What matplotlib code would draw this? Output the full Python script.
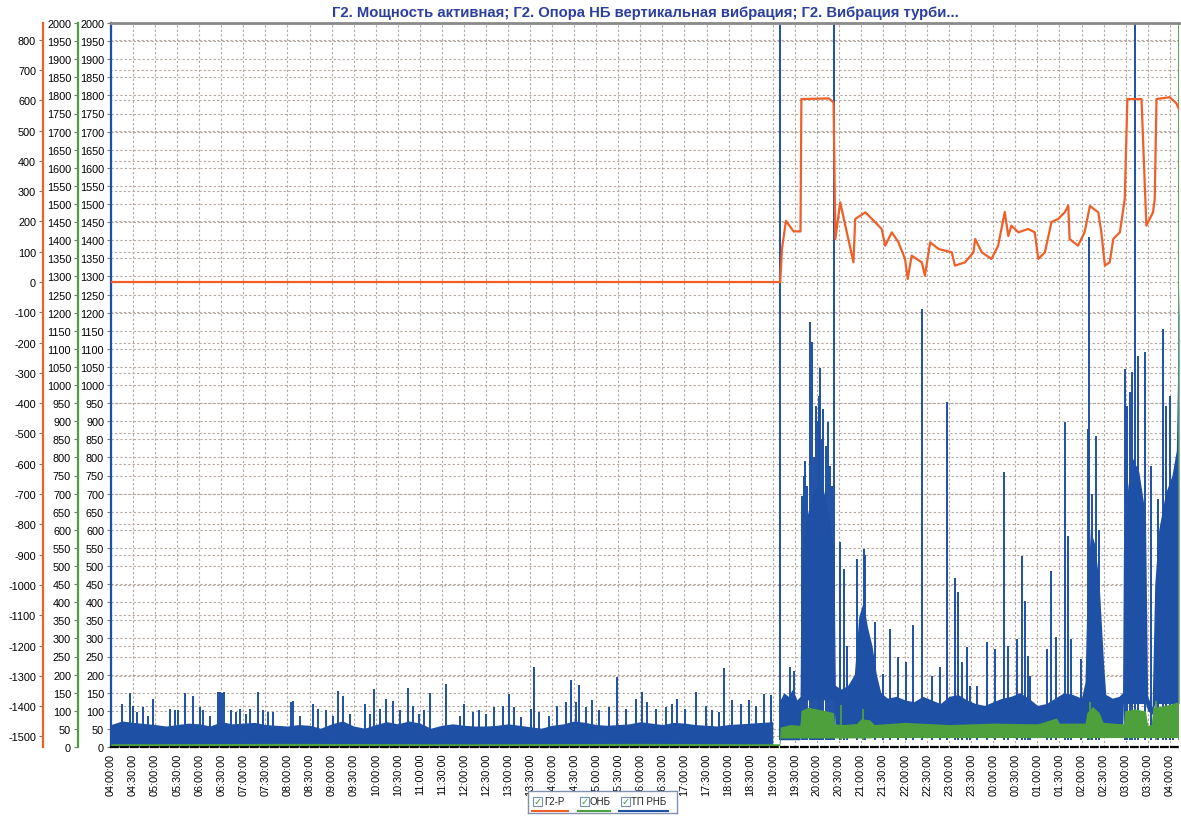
import numpy as np
import matplotlib
matplotlib.use('Agg')
import matplotlib.pyplot as plt
from matplotlib.patches import Rectangle

plt.rcParams['font.family'] = ['Liberation Sans', 'DejaVu Sans']
plt.rcParams['axes.unicode_minus'] = False

# ---------------------------------------------------------------------------
# Data (time in hours from 04:00, values in axis units)
TITLE = "Г2. Мощность активная; Г2. Опора НБ вертикальная вибрация; Г2. Вибрация турби..."
LEGEND_LABELS = ["Г2-Р", "ОНБ", "ТП РНБ"]

# Г2-Р (active power), orange axis
power_t = [4.0, 19.17, 19.21, 19.30, 19.475, 19.63, 19.65, 20.27, 20.38, 20.42,
           20.53, 20.83, 20.87, 21.10, 21.25, 21.47, 21.55, 21.70, 21.85, 22.00,
           22.06, 22.15, 22.38, 22.45, 22.57, 22.76, 23.06, 23.13, 23.36, 23.55,
           23.59, 23.74, 23.96, 24.11, 24.26, 24.34, 24.41, 24.57, 24.79, 24.94,
           25.02, 25.17, 25.32, 25.47, 25.62, 25.70, 25.73, 25.92, 26.07, 26.19,
           26.38, 26.45, 26.53, 26.64, 26.72, 26.87, 26.98, 27.04, 27.36, 27.47,
           27.62, 27.66, 27.70, 28.00, 28.15, 28.21]
power_v = [0, 0, 109, 202, 167, 167, 604, 606, 593, 142,
           263, 65, 208, 230, 208, 175, 120, 164, 131, 76,
           10, 87, 65, 21, 131, 109, 98, 54, 65, 98,
           142, 98, 76, 120, 231, 152, 186, 164, 175, 164,
           76, 98, 198, 208, 230, 252, 142, 120, 164, 251,
           230, 164, 54, 65, 142, 164, 274, 604, 604, 186,
           230, 274, 604, 610, 590, 570]

# ОНБ (bearing vibration), green axis
onb_t = [4.0, 8.0, 12.0, 16.0, 19.15, 19.17, 19.40, 19.62, 19.64, 19.80,
         20.00, 20.20, 20.38, 20.40, 20.60, 20.90, 21.00, 21.20, 21.30, 22.00,
         23.00, 24.00, 25.00, 25.43, 25.50, 26.08, 26.12, 26.25, 26.40, 26.49,
         26.95, 26.98, 27.20, 27.45, 27.50, 27.58, 27.62, 27.80, 28.00, 28.19]
onb_hi = [9, 10, 9, 10, 9, 55, 62, 60, 100, 110,
          105, 100, 95, 64, 62, 65, 78, 75, 62, 68,
          62, 66, 64, 80, 66, 66, 95, 112, 95, 68,
          64, 100, 105, 100, 60, 62, 110, 112, 118, 125]
onb_lo = [4, 4, 4, 4, 4, 25, 25, 25, 25, 25,
          25, 25, 25, 25, 25, 25, 25, 25, 26, 26,
          26, 26, 26, 26, 26, 26, 26, 26, 26, 26,
          26, 26, 26, 26, 26, 26, 26, 26, 26, 26]
onb_spike_t = [20.55, 21.05, 26.20, 27.68, 28.20]
onb_spike_v = [115, 105, 125, 128, 2000]

# ТП РНБ (turbine bearing vibration), blue axis - dense band envelope
tp_pre_t = np.arange(4.0, 19.01, 0.25)
tp_pre_hi = [62, 72, 68, 65, 62, 58, 62, 66, 64, 58,
             70, 64, 66, 68, 62, 60, 58, 62, 60, 52,
             64, 72, 58, 52, 62, 70, 64, 72, 66, 52,
             60, 64, 60, 58, 58, 60, 64, 60, 56, 52,
             60, 64, 72, 68, 62, 60, 62, 64, 70, 66,
             62, 68, 66, 62, 60, 58, 62, 64, 66, 68, 70]
tp_post_t = [19.15, 19.17, 19.25, 19.35, 19.45, 19.55, 19.62, 19.64, 19.72, 19.80,
             19.90, 20.00, 20.10, 20.20, 20.30, 20.39, 20.42, 20.55, 20.70, 20.85,
             20.95, 21.05, 21.15, 21.25, 21.35, 21.45, 21.60, 21.80, 22.00, 22.20,
             22.40, 22.60, 22.80, 23.00, 23.20, 23.40, 23.60, 23.80, 24.00, 24.20,
             24.40, 24.60, 24.80, 25.00, 25.20, 25.40, 25.60, 25.80, 26.00, 26.08,
             26.12, 26.20, 26.30, 26.40, 26.50, 26.55, 26.70, 26.85, 26.93, 26.95,
             27.05, 27.15, 27.30, 27.45, 27.50, 27.60, 27.66, 27.75, 27.90, 28.05,
             28.15, 28.21]
tp_post_hi = [80, 130, 150, 140, 160, 130, 140, 450, 600, 650,
              700, 720, 740, 680, 620, 520, 170, 160, 170, 200,
              360, 400, 330, 280, 200, 150, 135, 140, 130, 125,
              140, 130, 120, 140, 145, 130, 120, 115, 125, 135,
              140, 150, 135, 115, 120, 135, 150, 145, 135, 180,
              400, 600, 560, 450, 230, 145, 135, 140, 150, 550,
              720, 800, 760, 640, 140, 110, 450, 600, 700, 750,
              820, 1280]
tp_post_lo = [0, 20, 20, 20, 20, 20, 20, 130, 130, 130,
              130, 130, 130, 130, 130, 130, 28, 28, 28, 28,
              28, 28, 28, 28, 28, 28, 28, 28, 28, 28,
              28, 28, 28, 28, 28, 28, 28, 28, 28, 28,
              28, 28, 28, 28, 28, 28, 28, 28, 28, 28,
              28, 28, 28, 28, 28, 28, 28, 28, 28, 120,
              120, 120, 120, 120, 100, 90, 120, 120, 120, 120,
              120, 120]

# ТП РНБ spikes (time, peak)
tp_spike_t = [4.24, 4.43, 4.51, 4.58, 4.73, 4.84, 4.96, 5.33, 5.45, 5.52,
              5.67, 5.86, 6.01, 6.09, 6.24, 6.43, 6.47, 6.52, 6.56, 6.73,
              6.84, 6.92, 7.07, 7.15, 7.33, 7.45, 7.56, 7.67, 8.07, 8.13,
              8.28, 8.58, 8.69, 8.88, 9.03, 9.14, 9.26, 9.41, 9.75, 9.86,
              9.97, 10.09, 10.24, 10.39, 10.54, 10.73, 10.84, 10.99, 11.10, 11.22,
              11.59, 11.90, 12.01, 12.20, 12.35, 12.50, 12.69, 12.88, 13.03, 13.14,
              13.29, 13.52, 13.59, 13.71, 13.93, 14.12, 14.31, 14.42, 14.54, 14.61,
              14.76, 14.91, 15.06, 15.29, 15.48, 15.67, 15.89, 16.04, 16.16, 16.35,
              16.57, 16.72, 16.84, 17.02, 17.25, 17.48, 17.63, 17.78, 17.89, 18.08,
              18.27, 18.46, 18.61, 18.80, 18.95,
              19.16, 19.40, 19.48, 19.66, 19.70, 19.74, 19.78, 19.85, 19.89, 19.94,
              19.97, 20.02, 20.04, 20.08, 20.12, 20.15, 20.20, 20.25, 20.30, 20.35,
              20.40, 20.53, 20.61, 20.68, 20.91, 21.06, 21.10, 21.32, 21.51, 21.66,
              21.85, 22.02, 22.19, 22.39, 22.61, 22.79, 22.96, 23.13, 23.21, 23.28,
              23.40, 23.47, 23.62, 23.85, 24.04, 24.25, 24.34, 24.53, 24.64, 24.72,
              24.79, 24.84, 25.21, 25.30, 25.43, 25.62, 25.70, 25.77, 25.99, 26.15,
              26.17, 26.24, 26.32, 26.40, 26.98, 27.04, 27.09, 27.15, 27.21, 27.28,
              27.43, 27.58, 27.73, 27.85, 27.92, 28.00, 28.08]
tp_spike_v = [118, 148, 114, 96, 110, 86, 133, 105, 101, 101,
              148, 142, 110, 101, 86, 151, 152, 150, 151, 101,
              96, 105, 92, 105, 151, 101, 96, 96, 124, 128,
              86, 118, 105, 101, 86, 156, 142, 92, 118, 92,
              160, 105, 133, 128, 101, 163, 114, 92, 101, 148,
              174, 86, 120, 96, 101, 92, 110, 114, 147, 110,
              82, 105, 220, 96, 86, 114, 124, 184, 124, 170,
              110, 130, 101, 110, 193, 105, 133, 152, 124, 105,
              110, 120, 133, 105, 152, 114, 101, 96, 218, 130,
              120, 130, 114, 147, 143,
              2000, 220, 211, 694, 750, 791, 720, 1174, 1118, 800,
              943, 900, 970, 1048, 850, 933, 832, 897, 777, 721,
              2000, 565, 492, 280, 520, 547, 530, 345, 202, 326,
              248, 234, 336, 1210, 197, 220, 952, 468, 427, 234,
              275, 169, 169, 289, 270, 759, 280, 298, 528, 404,
              252, 197, 271, 487, 303, 897, 584, 298, 243, 878,
              1409, 700, 860, 600, 1044, 942, 980, 1035, 2000, 1081,
              1090, 777, 685, 1155, 942, 970, 740]

# Axes ranges and ticks
X_MIN, X_MAX = 4.0, 28.21
V_MIN, V_MAX = 0, 2000
P_MIN, P_MAX = -1535, 855
tick_hours = np.arange(4.0, 28.01, 0.5)
tick_labels = [f"{int(h) % 24:02d}:{int(round((h % 1) * 60)):02d}:00" for h in tick_hours]

# ---------------------------------------------------------------------------
C_BLUE = '#1e50a6'
C_GREEN = '#4ea03c'
C_ORANGE = '#f05f28'
C_GRID = '#b5a79f'
C_TITLE = '#2b3f9c'

W, H = 1181, 820
PX = 72 / 100  # pixels -> points
fig = plt.figure(figsize=(W / 100, H / 100), dpi=100)
ax = fig.add_axes([111 / W, 72 / H, (1179 - 111) / W, (748 - 24) / H])

# grids: every 50 on the vibration axes and every 100 on the power axis
ax.set_axisbelow(True)
ax.set_xticks(tick_hours)
ax.set_xticklabels(tick_labels, rotation=90, fontsize=7.8)
ax.set_yticks(np.arange(V_MIN, V_MAX + 1, 50))
ax.tick_params(axis='y', labelsize=7.8, length=3, pad=2, color='#777777')
ax.tick_params(axis='x', length=0, pad=4)
ax.grid(True, color=C_GRID, linestyle=(0, (2, 2)), linewidth=0.8)
for p in range(-1500, 801, 100):
    ax.axhline((p - P_MIN) / (P_MAX - P_MIN) * V_MAX, color=C_GRID,
               linestyle=(1, (2, 2)), linewidth=0.8, zorder=0.5)

# ТП РНБ
ax.fill_between(tp_pre_t, 0, tp_pre_hi, color=C_BLUE, linewidth=0, zorder=2)
ax.fill_between(tp_post_t, tp_post_lo, tp_post_hi, color=C_BLUE, linewidth=0, zorder=2)
ax.vlines(tp_spike_t, 20, tp_spike_v, color=C_BLUE, linewidth=1.4, zorder=2)
ax.set_xlim(X_MIN, X_MAX)
ax.set_ylim(V_MIN, V_MAX)

# ОНБ
ax_g = ax.twinx()
ax_g.fill_between(onb_t, onb_lo, onb_hi, color=C_GREEN, linewidth=0)
ax_g.vlines(onb_spike_t, 20, onb_spike_v, color=C_GREEN, linewidth=1.3)
ax_g.set_ylim(V_MIN, V_MAX)
ax_g.set_yticks(np.arange(V_MIN, V_MAX + 1, 50))

# Г2-Р
ax_o = ax.twinx()
ax_o.plot(power_t, power_v, color=C_ORANGE, linewidth=1.6)
ax_o.set_ylim(P_MIN, P_MAX)
ax_o.set_yticks(np.arange(-1500, 801, 100))

for a, off, col in [(ax_g, 33, C_GREEN), (ax_o, 68, C_ORANGE)]:
    a.set_xlim(X_MIN, X_MAX)
    a.yaxis.set_ticks_position('left')
    a.yaxis.set_label_position('left')
    a.spines['left'].set_position(('outward', off * PX))
    a.spines['left'].set_visible(True)
    a.spines['left'].set_color(col)
    a.spines['left'].set_linewidth(1.6)
    for s in ['right', 'top', 'bottom']:
        a.spines[s].set_visible(False)
    a.tick_params(axis='y', labelsize=7.8, length=3, pad=2, color='#777777')

ax.spines['left'].set_color(C_BLUE)
ax.spines['left'].set_linewidth(1.6)
ax.spines['top'].set_color('#8a8a8a')
ax.spines['top'].set_linewidth(2)
ax.spines['right'].set_visible(False)
ax.spines['bottom'].set_color('black')
ax.spines['bottom'].set_linewidth(1.6)
ax.spines['bottom'].set_linestyle((0, (3, 1.5)))

ax.set_title(TITLE, fontsize=10.7, fontweight='bold', color=C_TITLE, pad=5)

# legend box with check boxes
lg = fig.add_axes([528 / W, 1 - 814 / H, 149 / W, 22 / H])
lg.set_xlim(0, 149)
lg.set_ylim(22, 0)
lg.set_xticks([])
lg.set_yticks([])
for s in lg.spines.values():
    s.set_color('#8090b0')
    s.set_linewidth(1)
box_x = [5, 52, 93]
text_x = [16, 62, 103]
line_x = [(4, 40), (50, 82), (91, 140)]
for bx, tx, (l0, l1), lab, col in zip(box_x, text_x, line_x, LEGEND_LABELS,
                                      [C_ORANGE, C_GREEN, C_BLUE]):
    lg.add_patch(Rectangle((bx, 5.5), 9, 9, facecolor='white',
                           edgecolor='#7890b0', linewidth=0.8))
    lg.text(bx + 4.5, 10.3, '✓', color='#3a9a30', fontsize=7, ha='center',
            va='center', family=['DejaVu Sans'], fontweight='bold')
    lg.text(tx, 10.3, lab, fontsize=7, va='center', ha='left', color='#222222')
    lg.plot([l0, l1], [19.5, 19.5], color=col, linewidth=1.5)

fig.savefig('out.png', dpi=100)
